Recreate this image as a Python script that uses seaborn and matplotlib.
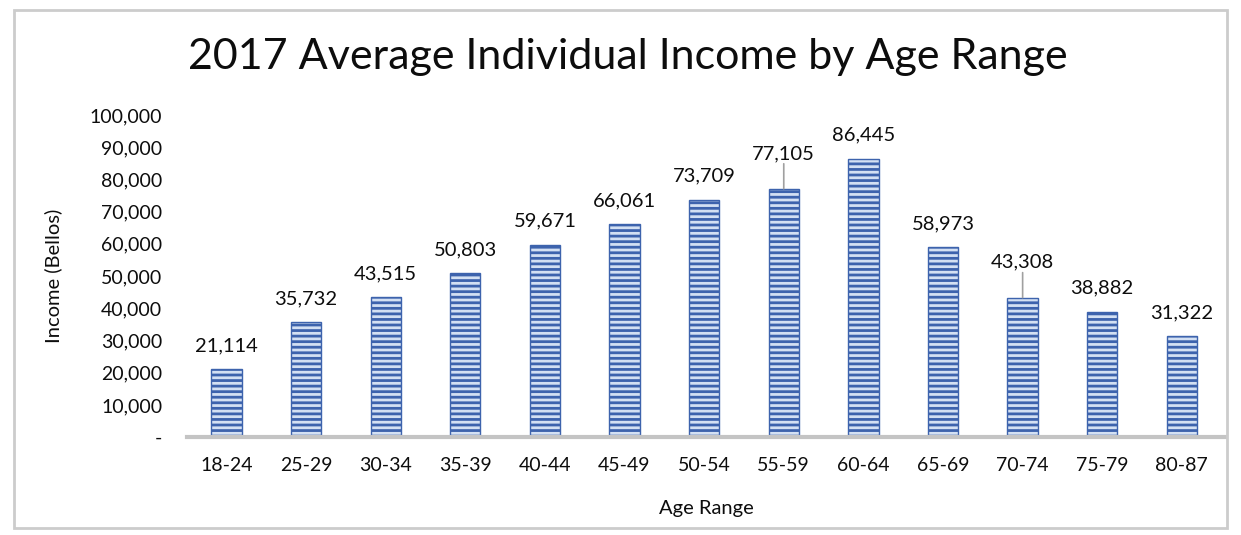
import matplotlib
matplotlib.use("Agg")
import matplotlib.pyplot as plt
import seaborn as sns
import pandas as pd
from matplotlib.patches import Rectangle

age_ranges = ["18-24", "25-29", "30-34", "35-39", "40-44", "45-49", "50-54",
              "55-59", "60-64", "65-69", "70-74", "75-79", "80-87"]
income = [21114, 35732, 43515, 50803, 59671, 66061, 73709,
          77105, 86445, 58973, 43308, 38882, 31322]
y_ticks = [0, 10000, 20000, 30000, 40000, 50000, 60000, 70000, 80000, 90000, 100000]
leader_labels = ["55-59", "70-74"]

sns.set_theme(style="white")
plt.rcParams["font.family"] = ["Lato", "DejaVu Sans"]
plt.rcParams["hatch.linewidth"] = 2.0
plt.rcParams["hatch.color"] = "#3d63ad"

df = pd.DataFrame({"Age Range": age_ranges, "Income": income})

fig = plt.figure(figsize=(12.41, 5.35), dpi=100)
ax = fig.add_axes([0.151, 0.183, 0.836, 0.602])

sns.barplot(data=df, x="Age Range", y="Income", ax=ax, width=0.38,
            color="#d3e0f3", saturation=1, edgecolor="#3d63ad", linewidth=1.0)
for p in ax.patches:
    p.set_hatch("---")

ax.set_ylim(0, 100000)
ax.set_xlim(-0.49, 12.54)
ax.set_yticks(y_ticks)
ax.set_yticklabels(["-"] + [f"{v:,}" for v in y_ticks[1:]])
ax.tick_params(axis="y", length=0, pad=18, labelsize=14, labelcolor="#0d0d0d")
ax.tick_params(axis="x", length=0, pad=14, labelsize=14, labelcolor="#0d0d0d")

for side in ["top", "right", "left"]:
    ax.spines[side].set_visible(False)
ax.spines["bottom"].set_color("#c4c4c4")
ax.spines["bottom"].set_linewidth(3)

ax.set_xlabel("Age Range", fontsize=14.5, labelpad=19, color="#0d0d0d")
ax.set_ylabel("Income (Bellos)", fontsize=14.5, labelpad=20, color="#0d0d0d")

# value labels above each bar
for i, (lab, val) in enumerate(zip(age_ranges, income)):
    if lab in leader_labels:
        off = 18
        ax.annotate("", xy=(i, val), xytext=(0, off), textcoords="offset points",
                    arrowprops=dict(arrowstyle="-", color="#a0a0a0", lw=1.2,
                                    shrinkA=0, shrinkB=0))
        ax.annotate(f"{val:,}", xy=(i, val), xytext=(0, off + 3.5),
                    textcoords="offset points", ha="center", va="baseline",
                    fontsize=14.5, color="#0d0d0d")
    else:
        ax.annotate(f"{val:,}", xy=(i, val), xytext=(0, 13),
                    textcoords="offset points", ha="center", va="baseline",
                    fontsize=14.5, color="#0d0d0d")

fig.text(0.506, 0.893, "2017 Average Individual Income by Age Range",
         ha="center", va="center", fontsize=31, color="#0d0d0d")

# frame around the chart
fig.patches.append(Rectangle((0.011, 0.014), 0.978, 0.968, transform=fig.transFigure,
                             fill=False, edgecolor="#cccccc", linewidth=2))

fig.savefig("out.png", dpi=100)
